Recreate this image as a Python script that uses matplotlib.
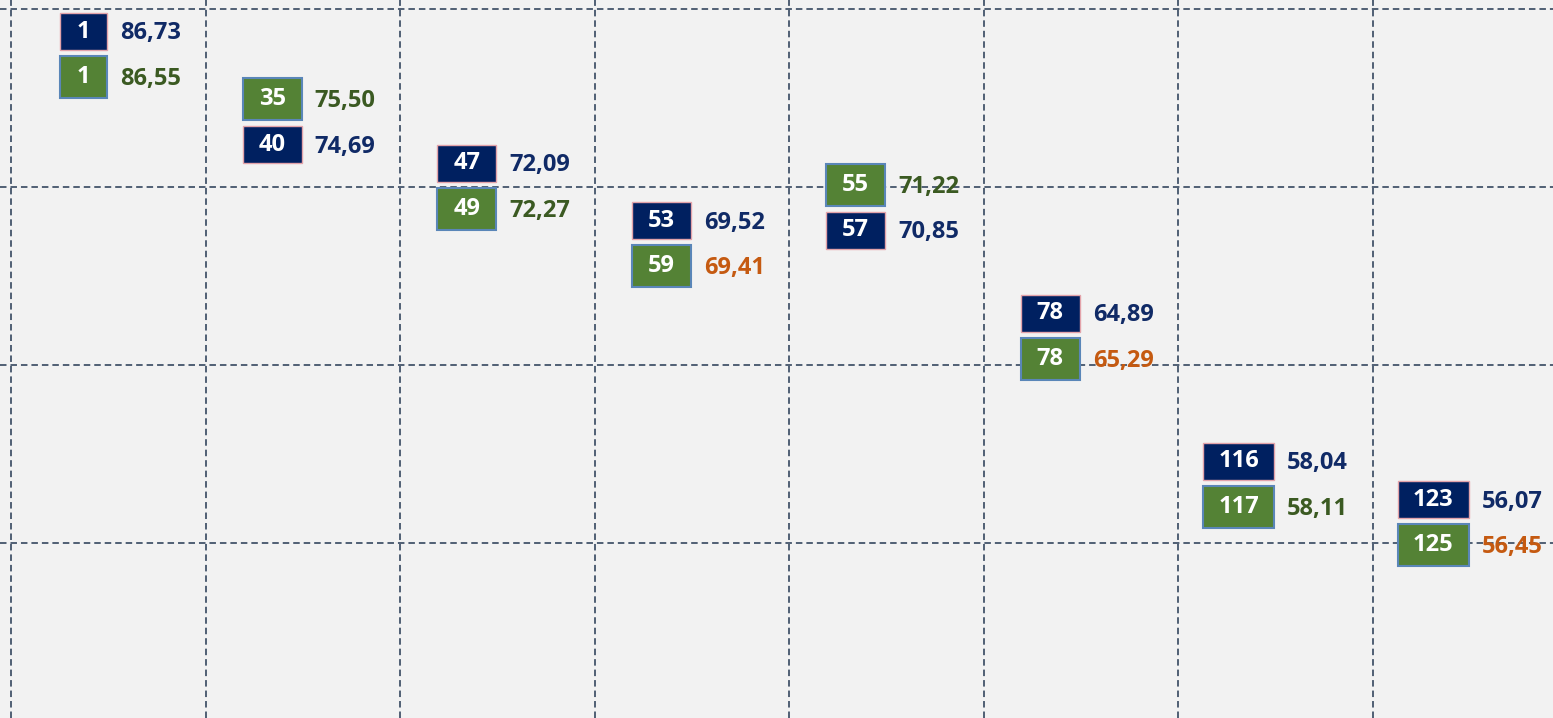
import numpy as np
import matplotlib.pyplot as plt
from matplotlib.patches import Rectangle
from matplotlib.transforms import IdentityTransform

# rank / score per column, two series
navy_rank = [1, 40, 47, 53, 57, 78, 116, 123]
navy_val = [86.73, 74.69, 72.09, 69.52, 70.85, 64.89, 58.04, 56.07]
green_rank = [1, 35, 49, 59, 55, 78, 117, 125]
green_val = [86.55, 75.50, 72.27, 69.41, 71.22, 65.29, 58.11, 56.45]
# which series label sits on top in each column
top_series = ['navy', 'green', 'navy', 'navy', 'green', 'navy', 'navy', 'navy']
# green values printed in orange
green_flag = [False, False, False, True, False, True, False, True]

W, H = 1553, 718
fig = plt.figure(figsize=(W / 100, H / 100), dpi=100, facecolor='#f2f2f2')
ax = fig.add_axes([0, 0, 1, 1])
ax.set_facecolor('#f2f2f2')

col_w = 194.5          # px per category
unit = 178 / 8.424     # px per score unit
# ticks first, set_*ticks would otherwise widen the limits
ax.set_xticks(np.arange(-0.5, 8, 1))
ax.set_yticks(80.5 - 8.424 * np.arange(5))
ax.set_xlim(-0.5 - 11 / col_w, -0.5 + (W - 11) / col_w)
ax.set_ylim(80.5 - (H - 9) / unit, 80.5 + 9 / unit)
ax.grid(True, color='#44546a', linestyle=(0, (3.6, 2.2)), linewidth=1.3)
ax.tick_params(length=0, labelbottom=False, labelleft=False)
for s in ax.spines.values():
    s.set_visible(False)

style = {
    'navy': dict(fill='#002060', edge='#e3a3aa', h=37, lw=1.0, txt='#102a66'),
    'green': dict(fill='#548235', edge='#5a86b8', h=42, lw=1.5, txt='#3b5a22'),
}
fnt = dict(family=['Open Sans', 'DejaVu Sans'], fontweight='bold', fontsize=17)
ident = IdentityTransform()

for i in range(8):
    data = {'navy': (navy_rank[i], navy_val[i], style['navy']['txt']),
            'green': (green_rank[i], green_val[i],
                      '#c55a11' if green_flag[i] else style['green']['txt'])}
    mid = (navy_val[i] + green_val[i]) / 2
    cx, cy = ax.transData.transform((i, mid))
    cy = min(cy, H - 53)   # first pair is pulled down into view
    upper = top_series[i]
    lower = 'green' if upper == 'navy' else 'navy'
    for name, sign in [(upper, 1), (lower, -1)]:
        st = style[name]
        rank, val, tcol = data[name]
        by = cy + sign * (3 + st['h'] / 2)
        bw = 35 + 12 * len(str(rank))
        ax.add_patch(Rectangle((cx - 1 - bw, by - st['h'] / 2), bw, st['h'],
                               facecolor=st['fill'], edgecolor=st['edge'],
                               linewidth=st['lw'], transform=ident, zorder=3))
        ax.text(cx - 1 - bw / 2, by, str(rank), color='white', ha='center',
                va='center', transform=ident, zorder=4, **fnt)
        ax.text(cx + 12, by - 2, f'{val:.2f}'.replace('.', ','), color=tcol,
                ha='left', va='center', transform=ident, zorder=4, **fnt)

fig.savefig('out.png', dpi=100, facecolor=fig.get_facecolor())
